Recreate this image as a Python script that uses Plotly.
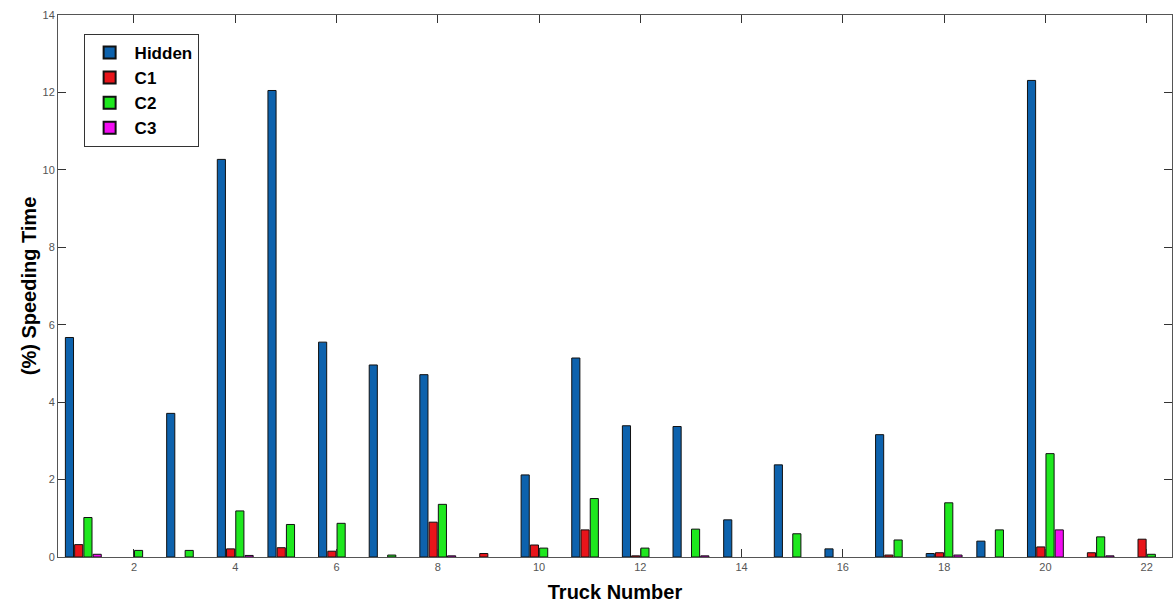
import plotly.graph_objects as go

trucks = list(range(1, 23))
hidden = [5.67, 0, 3.71, 10.27, 12.05, 5.55, 4.96, 4.71, 0, 2.12, 5.14, 3.39,
          3.37, 0.96, 2.38, 0.21, 3.16, 0.09, 0.41, 12.31, 0, 0]
c1 = [0.32, 0, 0, 0.21, 0.24, 0.15, 0, 0.90, 0.09, 0.31, 0.70, 0.03,
      0, 0, 0, 0, 0.05, 0.11, 0, 0.26, 0.11, 0.46]
c2 = [1.02, 0.17, 0.17, 1.19, 0.84, 0.87, 0.05, 1.36, 0, 0.23, 1.51, 0.23,
      0.72, 0, 0.60, 0, 0.44, 1.40, 0.70, 2.67, 0.52, 0.07]
c3 = [0.07, 0, 0, 0.04, 0, 0, 0, 0.03, 0, 0, 0, 0,
      0.03, 0, 0, 0, 0, 0.05, 0, 0.70, 0.03, 0]

series = [("Hidden", hidden, "#0d62ad"), ("C1", c1, "#e8141a"),
          ("C2", c2, "#1ee81e"), ("C3", c3, "#f20cf2")]

fig = go.Figure()
for name, vals, col in series:
    shown = [v if v > 0 else None for v in vals]
    fig.add_trace(go.Bar(x=trucks, y=shown, name=name, marker_color=col,
                         marker_line_color="#111111", marker_line_width=1))

axis_common = dict(showline=True, linecolor="#555555", linewidth=1, mirror="ticks",
                   ticks="inside", ticklen=8, tickcolor="#333333", showgrid=False,
                   zeroline=False, tickfont=dict(family="Liberation Sans, Arial", size=11, color="#555555"))

fig.update_layout(
    width=1173, height=603,
    margin=dict(l=58, r=1, t=15, b=46),
    plot_bgcolor="white", paper_bgcolor="white",
    barmode="group", bargap=0.27, bargroupgap=0.12,
    font=dict(family="Liberation Sans, Arial"),
    legend=dict(x=0.023, y=0.965, xanchor="left", yanchor="top",
                bgcolor="white", bordercolor="#333333", borderwidth=1,
                font=dict(size=17, color="black", family="Liberation Sans, Arial", weight="bold"),
                tracegroupgap=0, itemsizing="constant", itemwidth=40),
    xaxis=dict(range=[0.5, 22.5], tickvals=list(range(2, 23, 2)),
               title=dict(text="<b>Truck Number</b>", font=dict(size=20, color="black"), standoff=13),
               **axis_common),
    yaxis=dict(range=[0, 14], tickvals=list(range(0, 15, 2)),
               title=dict(text="<b>(%) Speeding Time</b>", font=dict(size=20, color="black"), standoff=0),
               **axis_common),
)

fig.write_html("out.html")
